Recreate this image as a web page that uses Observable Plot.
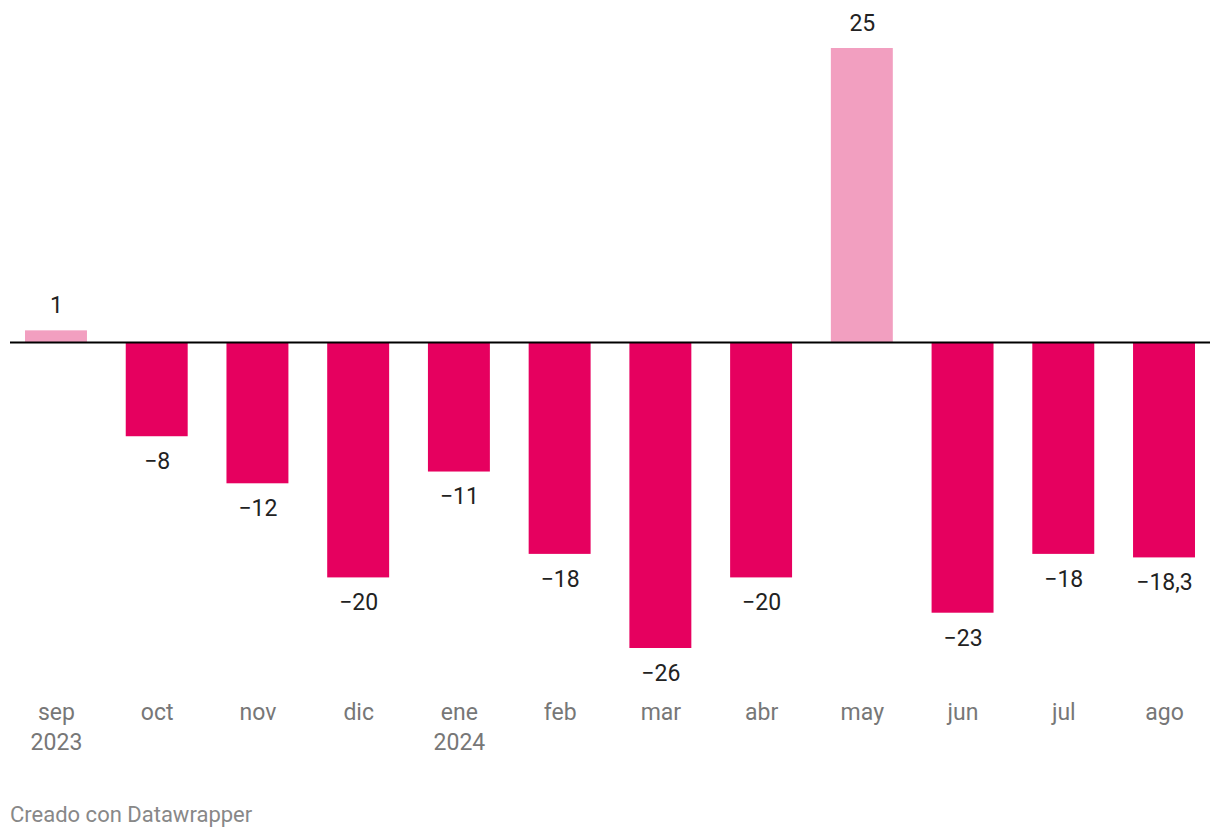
<!DOCTYPE html>
<html>
<head>
<meta charset="utf-8">
<script src="https://cdn.jsdelivr.net/npm/d3@7"></script>
<script src="https://cdn.jsdelivr.net/npm/@observablehq/plot@0.6"></script>
<style>
  html, body { margin: 0; padding: 0; background: #fff; }
  body { width: 1220px; height: 838px; position: relative; font-family: Roboto, sans-serif; }
  #chart svg { display: block; }
  #footer { position: absolute; left: 10px; top: 802px; font-size: 22px; line-height: 26px; color: #888; font-family: Roboto, sans-serif; }
</style>
</head>
<body>
<div id="chart"></div>
<div id="footer">Creado con Datawrapper</div>
<script>
const months = ["sep", "oct", "nov", "dic", "ene", "feb", "mar", "abr", "may", "jun", "jul", "ago"];
const years = ["2023", "", "", "", "2024", "", "", "", "", "", "", ""];
const values = [1, -8, -12, -20, -11, -18, -26, -20, 25, -23, -18, -18.3];

const data = months.map((m, i) => ({ m, year: years[i], v: values[i] }));
const fmt = v => String(v).replace("-", "\u2212").replace(".", ",");

const chart = Plot.plot({
  width: 1220,
  height: 770,
  marginLeft: 10,
  marginRight: 10,
  marginTop: 48,
  marginBottom: 122,
  style: { fontFamily: "Roboto, sans-serif", fontSize: "24px", background: "#fff" },
  x: { type: "band", domain: months, paddingInner: 0.385, paddingOuter: 0.149, round: false, axis: null },
  y: { domain: [-26, 25], axis: null },
  marks: [
    Plot.barY(data, { x: "m", y: "v", fill: d => d.v >= 0 ? "#f29fc0" : "#e6005f" }),
    Plot.ruleY([0], { stroke: "#000", strokeWidth: 2 }),
    Plot.text(data.filter(d => d.v >= 0), { x: "m", y: "v", text: d => fmt(d.v), dy: -25, lineAnchor: "middle", fill: "#222", fontSize: 23 }),
    Plot.text(data.filter(d => d.v < 0), { x: "m", y: "v", text: d => fmt(d.v), dy: 25, lineAnchor: "middle", fill: "#222", fontSize: 23 }),
    Plot.text(data, { x: "m", frameAnchor: "bottom", text: "m", dy: 64, lineAnchor: "middle", fill: "#777", fontSize: 23 }),
    Plot.text(data.filter(d => d.year), { x: "m", frameAnchor: "bottom", text: "year", dy: 94, lineAnchor: "middle", fill: "#777", fontSize: 23 })
  ]
});
document.getElementById("chart").appendChild(chart);
</script>
</body>
</html>
